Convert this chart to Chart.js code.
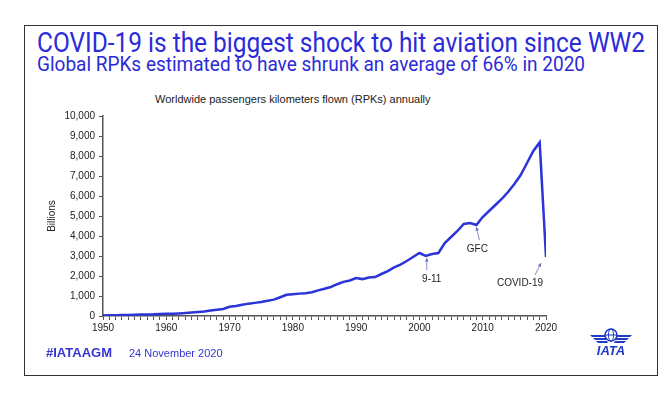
<!DOCTYPE html>
<html>
<head>
<meta charset="utf-8">
<script src="https://cdn.jsdelivr.net/npm/chart.js@4.4.0/dist/chart.umd.min.js"></script>
<style>
  html, body { margin: 0; padding: 0; background: #fff; }
  body { width: 670px; height: 399px; position: relative; overflow: hidden; font-family: 'Liberation Sans', Arial, sans-serif; }
  #frame { position: absolute; left: 24px; top: 25px; width: 632px; height: 349px; border: 1.5px solid #333; }
  .head { position: absolute; left: 37px; color: #2b2bd9; white-space: nowrap; transform-origin: 0 0; font-family: Roboto, 'Liberation Sans', sans-serif; font-weight: 400; line-height: 1; }
  #title { top: 30px; font-size: 27px; }
  #subtitle { top: 54px; font-size: 21px; }
  #chartTitle { position: absolute; left: 155px; top: 93px; font-size: 11px; color: #222; white-space: nowrap; }
  #tag { position: absolute; left: 46px; top: 345px; font-size: 13px; font-weight: bold; color: #3535d0; }
  #date { position: absolute; left: 129px; top: 347px; font-size: 11px; color: #3535d0; }
  #logo { position: absolute; left: 588px; top: 326px; }
  canvas { position: absolute; left: 0; top: 0; }
</style>
</head>
<body>
<div id="frame"></div>
<div class="head" id="title">COVID-19 is the biggest shock to hit aviation since WW2</div>
<div class="head" id="subtitle">Global RPKs estimated to have shrunk an average of 66% in 2020</div>
<div id="chartTitle">Worldwide passengers kilometers flown (RPKs) annually</div>
<canvas id="rpk-chart" width="670" height="399"></canvas>
<div id="tag">#IATAAGM</div>
<div id="date">24 November 2020</div>
<svg id="logo" width="46" height="32" viewBox="0 0 46 32">
  <g fill="#1f3bc8" stroke="none">
    <path d="M2 9 L17 9 L18 11 L4 11 Z"/>
    <path d="M5 12 L18 12 L19 14 L7 14 Z"/>
    <path d="M8 15 L19 15 L20 17 L10 17 Z"/>
    <path d="M44 9 L29 9 L28 11 L42 11 Z"/>
    <path d="M41 12 L28 12 L27 14 L39 14 Z"/>
    <path d="M38 15 L27 15 L26 17 L36 17 Z"/>
  </g>
  <circle cx="23" cy="9" r="6" fill="none" stroke="#1f3bc8" stroke-width="1.6"/>
  <ellipse cx="23" cy="9" rx="2.6" ry="6" fill="none" stroke="#1f3bc8" stroke-width="1"/>
  <line x1="17" y1="9" x2="29" y2="9" stroke="#1f3bc8" stroke-width="1"/>
  <text x="23" y="29" text-anchor="middle" font-family="Liberation Sans, Arial, sans-serif" font-size="13" font-weight="bold" font-style="italic" fill="#1f3bc8">IATA</text>
</svg>
<script>
// Worldwide RPKs (billions)
const years = [
  1950, 1951, 1952, 1953, 1954, 1955, 1956, 1957, 1958, 1959,
  1960, 1961, 1962, 1963, 1964, 1965, 1966, 1967, 1968, 1969,
  1970, 1971, 1972, 1973, 1974, 1975, 1976, 1977, 1978, 1979,
  1980, 1981, 1982, 1983, 1984, 1985, 1986, 1987, 1988, 1989,
  1990, 1991, 1992, 1993, 1994, 1995, 1996, 1997, 1998, 1999,
  2000, 2001, 2002, 2003, 2004, 2005, 2006, 2007, 2008, 2009,
  2010, 2011, 2012, 2013, 2014, 2015, 2016, 2017, 2018, 2019,
  2020
];
const rpks = [
  30, 35, 40, 46, 52, 61, 71, 81, 85, 98,
  109, 117, 130, 147, 171, 198, 229, 273, 309, 351,
  460, 500, 560, 618, 656, 697, 764, 818, 936, 1060,
  1089, 1119, 1142, 1190, 1280, 1366, 1452, 1589, 1705, 1776,
  1894, 1845, 1929, 1949, 2100, 2248, 2432, 2573, 2750, 2950,
  3150, 3000, 3100, 3150, 3650, 3950, 4250, 4600, 4650, 4550,
  4950, 5250, 5550, 5850, 6200, 6600, 7050, 7650, 8250, 8680,
  2950
];
const yTicks = [0, 1000, 2000, 3000, 4000, 5000, 6000, 7000, 8000, 9000, 10000];

// event call-outs, anchored to a year on the line
const noteLabels = ['9-11', 'GFC', 'COVID-19'];
const noteYears = [2001, 2009, 2020];

// fit the two headline lines to the width they take in the reference
function fitWidth(id, target) {
  const el = document.getElementById(id);
  el.style.transform = 'none';
  const w = el.getBoundingClientRect().width;
  el.style.transform = `scaleX(${target / w})`;
}
function fitHeads() {
  fitWidth('title', 608);
  fitWidth('subtitle', 548);
}
fitHeads();
document.fonts.ready.then(fitHeads);

const noteStyle = {
  '9-11': { head: [1, 2], tail: [1, 14], text: [6, 23] },
  'GFC': { head: [0, 2], tail: [3, 15], text: [1, 24] },
  'COVID-19': { head: [-5, 6], tail: [-11, 18], text: [-26, 26] }
};

const calloutPlugin = {
  id: 'callouts',
  afterDatasetsDraw(chart) {
    const { ctx, scales } = chart;
    ctx.save();
    noteLabels.forEach((label, i) => {
      const yr = noteYears[i];
      const px = scales.x.getPixelForValue(yr);
      const py = scales.y.getPixelForValue(rpks[years.indexOf(yr)]);
      const s = noteStyle[label];
      const hx = px + s.head[0], hy = py + s.head[1];
      const tx = px + s.tail[0], ty = py + s.tail[1];
      ctx.strokeStyle = '#6a6fb8';
      ctx.fillStyle = '#6a6fb8';
      ctx.lineWidth = 0.8;
      ctx.beginPath();
      ctx.moveTo(tx, ty);
      ctx.lineTo(hx, hy);
      ctx.stroke();
      const a = Math.atan2(hy - ty, hx - tx);
      ctx.beginPath();
      ctx.moveTo(hx, hy);
      ctx.lineTo(hx - 4 * Math.cos(a - 0.45), hy - 4 * Math.sin(a - 0.45));
      ctx.lineTo(hx - 4 * Math.cos(a + 0.45), hy - 4 * Math.sin(a + 0.45));
      ctx.closePath();
      ctx.fill();
      ctx.fillStyle = '#222';
      ctx.font = '10px "Liberation Sans", Arial, sans-serif';
      ctx.textAlign = 'center';
      ctx.textBaseline = 'middle';
      ctx.fillText(label, px + s.text[0], py + s.text[1]);
    });
    ctx.restore();
  }
};

const ctx = document.getElementById('rpk-chart').getContext('2d');
new Chart(ctx, {
  type: 'line',
  data: {
    datasets: [{
      label: 'RPKs',
      data: years.map((y, i) => ({ x: y, y: rpks[i] })),
      borderColor: '#2c33d8',
      borderWidth: 2.5,
      pointRadius: 0,
      tension: 0,
      fill: false
    }]
  },
  options: {
    responsive: false,
    animation: false,
    devicePixelRatio: 1,
    layout: { padding: { left: 38, right: 124, top: 116, bottom: 59 } },
    plugins: {
      legend: { display: false },
      tooltip: { enabled: false },
      title: { display: false }
    },
    scales: {
      x: {
        type: 'linear',
        min: 1950,
        max: 2020,
        afterFit: s => { s.height = 24; },
        afterBuildTicks: s => { s.ticks = years.map(v => ({ value: v })); },
        grid: { drawOnChartArea: false, tickLength: 4, color: '#555' },
        border: { color: '#555', width: 1.5 },
        ticks: {
          autoSkip: false,
          maxRotation: 0,
          padding: 2,
          color: '#222',
          font: { size: 10, family: '"Liberation Sans", Arial, sans-serif' },
          callback: v => (v % 10 === 0 ? String(v) : '')
        }
      },
      y: {
        min: 0,
        max: 10000,
        afterFit: s => { s.width = 65; },
        afterBuildTicks: s => { s.ticks = yTicks.map(v => ({ value: v })); },
        grid: { drawOnChartArea: false, tickLength: 4, color: '#555' },
        border: { color: '#555', width: 1.5 },
        title: {
          display: true,
          text: 'Billions',
          color: '#222',
          padding: { top: 8, bottom: 0 },
          font: { size: 10, family: '"Liberation Sans", Arial, sans-serif' }
        },
        ticks: {
          padding: 4,
          color: '#222',
          font: { size: 10, family: '"Liberation Sans", Arial, sans-serif' },
          callback: v => v.toLocaleString('en-US')
        }
      }
    }
  },
  plugins: [calloutPlugin]
});
</script>
</body>
</html>
